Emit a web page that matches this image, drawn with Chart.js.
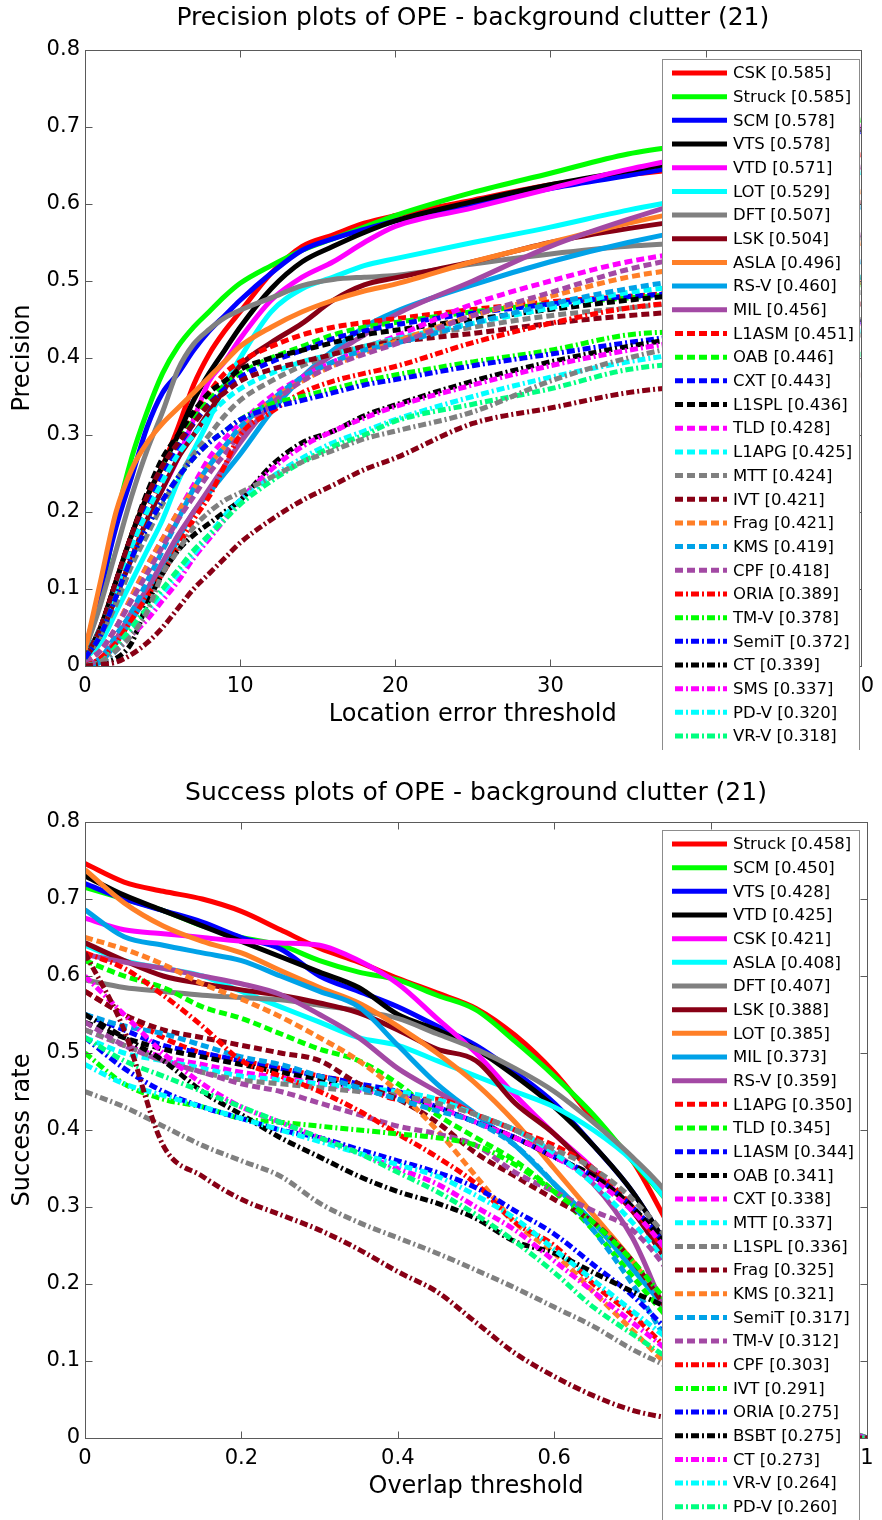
<!DOCTYPE html>
<html>
<head>
<meta charset="utf-8">
<script src="https://cdn.jsdelivr.net/npm/chart.js@4.4.1/dist/chart.umd.min.js"></script>
<style>
    html, body { margin: 0; padding: 0; background: #fff; }
    #wrap { position: relative; width: 882px; height: 1520px; overflow: hidden; }
    canvas { position: absolute; left: 0; }
</style>
</head>
<body>
<div id="wrap">
    <canvas id="prec" width="882" height="750" style="top:0px"></canvas>
    <canvas id="succ" width="882" height="770" style="top:750px"></canvas>
</div>
<script>
// ---- precision plot data (location error threshold, px) ----
var precThresholds = [0, 1, 2, 3, 4, 5, 6, 7, 8, 9, 10, 12, 14, 16, 18, 20, 25, 30, 35, 40, 45, 50];
var precNames = ["CSK", "Struck", "SCM", "VTS", "VTD", "LOT", "DFT", "LSK", "ASLA", "RS-V", "MIL",
    "L1ASM", "OAB", "CXT", "L1SPL", "TLD", "L1APG", "MTT", "IVT", "Frag", "KMS", "CPF",
    "ORIA", "TM-V", "SemiT", "CT", "SMS", "PD-V", "VR-V", "BSBT", "MS-V"];
var precScores = [0.585, 0.585, 0.578, 0.578, 0.571, 0.529, 0.507, 0.504, 0.496, 0.460, 0.456,
    0.451, 0.446, 0.443, 0.436, 0.428, 0.425, 0.424, 0.421, 0.421, 0.419, 0.418,
    0.389, 0.378, 0.372, 0.339, 0.337, 0.320, 0.318, 0.305, 0.270];

var precCSK = [0.01, 0.05, 0.11, 0.17, 0.22, 0.26, 0.31, 0.365, 0.405, 0.435, 0.46, 0.51, 0.545, 0.56, 0.575, 0.585, 0.605, 0.625, 0.638, 0.648, 0.656, 0.664];
var precStruck = [0.02, 0.09, 0.19, 0.27, 0.33, 0.38, 0.415, 0.44, 0.46, 0.48, 0.497, 0.52, 0.54, 0.555, 0.57, 0.585, 0.615, 0.64, 0.665, 0.68, 0.695, 0.709];
var precSCM = [0.02, 0.10, 0.18, 0.245, 0.31, 0.355, 0.38, 0.41, 0.435, 0.455, 0.475, 0.51, 0.54, 0.555, 0.567, 0.578, 0.60, 0.62, 0.637, 0.655, 0.675, 0.694];
var precVTS = [0.01, 0.05, 0.11, 0.17, 0.22, 0.26, 0.30, 0.345, 0.38, 0.41, 0.44, 0.49, 0.525, 0.545, 0.563, 0.578, 0.603, 0.625, 0.643, 0.66, 0.678, 0.697];
var precVTD = [0.01, 0.04, 0.09, 0.14, 0.19, 0.23, 0.27, 0.32, 0.37, 0.395, 0.425, 0.475, 0.505, 0.525, 0.55, 0.571, 0.595, 0.62, 0.645, 0.665, 0.685, 0.701];
var precLOT = [0.01, 0.03, 0.07, 0.11, 0.15, 0.19, 0.24, 0.28, 0.32, 0.365, 0.40, 0.46, 0.49, 0.505, 0.52, 0.529, 0.55, 0.57, 0.592, 0.61, 0.626, 0.641];
var precDFT = [0.02, 0.08, 0.15, 0.22, 0.28, 0.33, 0.385, 0.418, 0.437, 0.452, 0.462, 0.478, 0.494, 0.502, 0.505, 0.507, 0.522, 0.535, 0.545, 0.55, 0.553, 0.556];
var precLSK = [0.01, 0.04, 0.09, 0.14, 0.19, 0.23, 0.27, 0.30, 0.33, 0.36, 0.39, 0.42, 0.445, 0.475, 0.495, 0.504, 0.525, 0.55, 0.568, 0.582, 0.593, 0.602];
var precASLA = [0.02, 0.11, 0.20, 0.255, 0.29, 0.315, 0.335, 0.355, 0.375, 0.395, 0.415, 0.44, 0.46, 0.475, 0.487, 0.496, 0.525, 0.55, 0.575, 0.595, 0.607, 0.616];
var precRSV = [0, 0.005, 0.03, 0.06, 0.09, 0.125, 0.165, 0.20, 0.225, 0.25, 0.275, 0.33, 0.375, 0.41, 0.44, 0.46, 0.495, 0.525, 0.55, 0.57, 0.585, 0.596];
var precMIL = [0, 0.01, 0.035, 0.07, 0.10, 0.135, 0.17, 0.20, 0.23, 0.26, 0.29, 0.34, 0.375, 0.405, 0.43, 0.456, 0.50, 0.545, 0.58, 0.61, 0.632, 0.648];
var precL1ASM = [0.01, 0.04, 0.09, 0.15, 0.20, 0.25, 0.29, 0.325, 0.355, 0.38, 0.395, 0.415, 0.43, 0.44, 0.446, 0.451, 0.463, 0.473, 0.48, 0.487, 0.493, 0.498];
var precOAB = [0.01, 0.05, 0.10, 0.16, 0.21, 0.255, 0.29, 0.32, 0.345, 0.365, 0.38, 0.40, 0.415, 0.43, 0.44, 0.446, 0.46, 0.47, 0.478, 0.485, 0.49, 0.495];
var precCXT = [0.01, 0.05, 0.10, 0.16, 0.21, 0.25, 0.285, 0.315, 0.34, 0.36, 0.375, 0.395, 0.41, 0.425, 0.435, 0.443, 0.458, 0.47, 0.48, 0.485, 0.49, 0.493];
var precL1SPL = [0.01, 0.05, 0.11, 0.17, 0.225, 0.27, 0.30, 0.33, 0.355, 0.37, 0.385, 0.40, 0.41, 0.42, 0.43, 0.436, 0.45, 0.463, 0.475, 0.485, 0.495, 0.505];
var precTLD = [0.005, 0.02, 0.05, 0.09, 0.13, 0.165, 0.20, 0.235, 0.27, 0.295, 0.315, 0.35, 0.375, 0.395, 0.413, 0.428, 0.47, 0.50, 0.525, 0.54, 0.55, 0.56];
var precL1APG = [0.01, 0.05, 0.10, 0.155, 0.20, 0.24, 0.275, 0.30, 0.325, 0.345, 0.36, 0.38, 0.395, 0.405, 0.415, 0.425, 0.445, 0.465, 0.485, 0.495, 0.50, 0.505];
var precMTT = [0.01, 0.04, 0.08, 0.13, 0.17, 0.21, 0.245, 0.275, 0.30, 0.325, 0.345, 0.37, 0.39, 0.405, 0.415, 0.424, 0.44, 0.455, 0.465, 0.475, 0.48, 0.485];
var precIVT = [0.01, 0.05, 0.11, 0.17, 0.22, 0.26, 0.29, 0.315, 0.34, 0.355, 0.37, 0.385, 0.395, 0.405, 0.415, 0.421, 0.432, 0.445, 0.455, 0.462, 0.467, 0.47];
var precFrag = [0.005, 0.02, 0.05, 0.09, 0.13, 0.165, 0.20, 0.23, 0.26, 0.285, 0.305, 0.345, 0.37, 0.39, 0.407, 0.421, 0.455, 0.48, 0.505, 0.52, 0.535, 0.549];
var precKMS = [0, 0.01, 0.04, 0.07, 0.11, 0.15, 0.19, 0.23, 0.26, 0.285, 0.31, 0.345, 0.375, 0.395, 0.41, 0.419, 0.445, 0.47, 0.49, 0.505, 0.515, 0.525];
var precCPF = [0.005, 0.02, 0.05, 0.085, 0.12, 0.155, 0.19, 0.22, 0.25, 0.275, 0.30, 0.34, 0.37, 0.39, 0.405, 0.418, 0.455, 0.485, 0.515, 0.535, 0.548, 0.56];
var precORIA = [0, 0.01, 0.03, 0.06, 0.09, 0.12, 0.155, 0.19, 0.22, 0.26, 0.30, 0.33, 0.355, 0.37, 0.38, 0.389, 0.42, 0.445, 0.465, 0.475, 0.482, 0.488];
var precTMV = [0.01, 0.04, 0.09, 0.14, 0.18, 0.215, 0.245, 0.27, 0.29, 0.305, 0.32, 0.34, 0.35, 0.36, 0.37, 0.378, 0.395, 0.41, 0.43, 0.435, 0.437, 0.438];
var precSemiT = [0.01, 0.04, 0.09, 0.14, 0.18, 0.215, 0.245, 0.27, 0.29, 0.305, 0.32, 0.335, 0.345, 0.355, 0.365, 0.372, 0.39, 0.405, 0.42, 0.432, 0.44, 0.447];
var precCT = [0, 0.005, 0.01, 0.03, 0.08, 0.12, 0.15, 0.17, 0.185, 0.20, 0.215, 0.26, 0.29, 0.305, 0.325, 0.339, 0.37, 0.395, 0.415, 0.43, 0.44, 0.45];
var precSMS = [0, 0.005, 0.02, 0.04, 0.06, 0.085, 0.11, 0.14, 0.165, 0.19, 0.215, 0.255, 0.285, 0.305, 0.322, 0.337, 0.365, 0.39, 0.41, 0.425, 0.435, 0.445];
var precPDV = [0, 0.005, 0.02, 0.045, 0.07, 0.095, 0.12, 0.145, 0.17, 0.195, 0.215, 0.245, 0.27, 0.29, 0.305, 0.32, 0.35, 0.375, 0.395, 0.41, 0.425, 0.435];
var precVRV = [0, 0.005, 0.025, 0.05, 0.075, 0.10, 0.125, 0.15, 0.17, 0.19, 0.21, 0.24, 0.265, 0.285, 0.30, 0.318, 0.34, 0.36, 0.385, 0.395, 0.40, 0.405];
var precBSBT = [0, 0.005, 0.02, 0.04, 0.07, 0.12, 0.15, 0.18, 0.20, 0.215, 0.225, 0.245, 0.265, 0.28, 0.295, 0.305, 0.33, 0.37, 0.40, 0.42, 0.425, 0.43];
var precMSV = [0, 0.002, 0.005, 0.015, 0.03, 0.05, 0.075, 0.10, 0.12, 0.14, 0.16, 0.19, 0.215, 0.235, 0.255, 0.27, 0.315, 0.335, 0.355, 0.365, 0.372, 0.378];

var precSeries = [precCSK, precStruck, precSCM, precVTS, precVTD, precLOT, precDFT, precLSK, precASLA, precRSV, precMIL,
    precL1ASM, precOAB, precCXT, precL1SPL, precTLD, precL1APG, precMTT, precIVT, precFrag, precKMS, precCPF,
    precORIA, precTMV, precSemiT, precCT, precSMS, precPDV, precVRV, precBSBT, precMSV];

// ---- success plot data (overlap threshold) ----
var succThresholds = [0, 0.05, 0.1, 0.15, 0.2, 0.25, 0.3, 0.35, 0.4, 0.45, 0.5, 0.55, 0.6, 0.65, 0.7, 0.75, 0.8, 0.85, 0.9, 0.95, 1];
var succNames = ["Struck", "SCM", "VTS", "VTD", "CSK", "ASLA", "DFT", "LSK", "LOT", "MIL", "RS-V",
    "L1APG", "TLD", "L1ASM", "OAB", "CXT", "MTT", "L1SPL", "Frag", "KMS", "SemiT", "TM-V",
    "CPF", "IVT", "ORIA", "BSBT", "CT", "VR-V", "PD-V", "SMS", "MS-V"];
var succScores = [0.458, 0.450, 0.428, 0.425, 0.421, 0.408, 0.407, 0.388, 0.385, 0.373, 0.359,
    0.350, 0.345, 0.344, 0.341, 0.338, 0.337, 0.336, 0.325, 0.321, 0.317, 0.312,
    0.303, 0.291, 0.275, 0.275, 0.273, 0.264, 0.260, 0.213, 0.183];

var succStruck = [0.746, 0.722, 0.71, 0.70, 0.684, 0.66, 0.636, 0.618, 0.597, 0.578, 0.558, 0.523, 0.475, 0.414, 0.36, 0.27, 0.19, 0.11, 0.05, 0.015, 0];
var succSCM = [0.715, 0.70, 0.685, 0.665, 0.65, 0.64, 0.62, 0.605, 0.595, 0.575, 0.556, 0.515, 0.47, 0.42, 0.36, 0.30, 0.22, 0.14, 0.07, 0.02, 0];
var succVTS = [0.72, 0.70, 0.685, 0.67, 0.65, 0.635, 0.60, 0.58, 0.56, 0.535, 0.51, 0.475, 0.435, 0.38, 0.32, 0.24, 0.15, 0.09, 0.04, 0.01, 0];
var succVTD = [0.73, 0.705, 0.685, 0.665, 0.645, 0.625, 0.605, 0.585, 0.55, 0.53, 0.505, 0.47, 0.43, 0.38, 0.32, 0.24, 0.15, 0.065, 0.035, 0.01, 0];
var succCSK = [0.675, 0.66, 0.655, 0.65, 0.645, 0.643, 0.64, 0.62, 0.59, 0.545, 0.50, 0.445, 0.395, 0.35, 0.295, 0.23, 0.16, 0.09, 0.04, 0.01, 0];
var succASLA = [0.64, 0.62, 0.61, 0.60, 0.58, 0.56, 0.54, 0.52, 0.51, 0.49, 0.47, 0.45, 0.43, 0.40, 0.36, 0.30, 0.22, 0.14, 0.07, 0.02, 0];
var succDFT = [0.595, 0.585, 0.58, 0.575, 0.572, 0.569, 0.562, 0.555, 0.545, 0.525, 0.505, 0.48, 0.45, 0.41, 0.365, 0.31, 0.22, 0.13, 0.06, 0.02, 0];
var succLSK = [0.643, 0.62, 0.60, 0.59, 0.582, 0.575, 0.565, 0.552, 0.53, 0.505, 0.49, 0.435, 0.395, 0.345, 0.295, 0.22, 0.14, 0.07, 0.02, 0.01, 0];
var succLOT = [0.738, 0.695, 0.665, 0.645, 0.63, 0.607, 0.585, 0.565, 0.535, 0.50, 0.46, 0.41, 0.35, 0.29, 0.23, 0.16, 0.09, 0.04, 0.01, 0, 0];
var succMIL = [0.686, 0.651, 0.64, 0.63, 0.62, 0.60, 0.58, 0.56, 0.51, 0.46, 0.42, 0.38, 0.33, 0.28, 0.22, 0.16, 0.11, 0.06, 0.04, 0.01, 0];
var succRSV = [0.628, 0.618, 0.61, 0.60, 0.59, 0.576, 0.55, 0.52, 0.48, 0.45, 0.42, 0.40, 0.37, 0.33, 0.26, 0.15, 0.08, 0.04, 0.02, 0.01, 0];
var succL1APG = [0.58, 0.55, 0.52, 0.50, 0.49, 0.48, 0.47, 0.46, 0.44, 0.44, 0.42, 0.40, 0.38, 0.35, 0.30, 0.23, 0.15, 0.09, 0.03, 0.01, 0];
var succTLD = [0.62, 0.60, 0.585, 0.56, 0.545, 0.525, 0.505, 0.49, 0.46, 0.42, 0.39, 0.36, 0.32, 0.27, 0.21, 0.15, 0.09, 0.05, 0.02, 0.01, 0];
var succL1ASM = [0.55, 0.53, 0.51, 0.50, 0.49, 0.48, 0.47, 0.46, 0.45, 0.43, 0.41, 0.39, 0.365, 0.34, 0.30, 0.24, 0.16, 0.09, 0.04, 0.01, 0];
var succOAB = [0.54, 0.52, 0.505, 0.495, 0.485, 0.475, 0.465, 0.455, 0.445, 0.43, 0.41, 0.39, 0.365, 0.34, 0.30, 0.24, 0.16, 0.09, 0.04, 0.01, 0];
var succCXT = [0.53, 0.51, 0.495, 0.485, 0.475, 0.468, 0.46, 0.452, 0.445, 0.43, 0.41, 0.39, 0.365, 0.335, 0.295, 0.235, 0.155, 0.085, 0.035, 0.01, 0];
var succMTT = [0.52, 0.50, 0.49, 0.48, 0.47, 0.465, 0.46, 0.455, 0.45, 0.44, 0.42, 0.40, 0.37, 0.33, 0.28, 0.22, 0.15, 0.08, 0.03, 0.01, 0];
var succL1SPL = [0.53, 0.51, 0.49, 0.475, 0.465, 0.46, 0.455, 0.45, 0.445, 0.435, 0.42, 0.40, 0.375, 0.35, 0.31, 0.25, 0.15, 0.06, 0.02, 0, 0];
var succFrag = [0.58, 0.55, 0.53, 0.52, 0.51, 0.50, 0.49, 0.46, 0.44, 0.41, 0.37, 0.34, 0.31, 0.28, 0.23, 0.16, 0.10, 0.04, 0.01, 0, 0];
var succKMS = [0.65, 0.635, 0.615, 0.59, 0.57, 0.547, 0.52, 0.49, 0.45, 0.40, 0.34, 0.28, 0.24, 0.19, 0.14, 0.09, 0.05, 0.02, 0.01, 0, 0];
var succSemiT = [0.55, 0.535, 0.525, 0.51, 0.495, 0.485, 0.47, 0.455, 0.44, 0.425, 0.41, 0.38, 0.33, 0.27, 0.20, 0.12, 0.07, 0.03, 0.01, 0, 0];
var succTMV = [0.54, 0.51, 0.49, 0.475, 0.46, 0.45, 0.435, 0.42, 0.405, 0.395, 0.38, 0.345, 0.32, 0.295, 0.27, 0.21, 0.12, 0.05, 0.02, 0, 0];
var succCPF = [0.63, 0.61, 0.575, 0.535, 0.49, 0.47, 0.45, 0.425, 0.395, 0.365, 0.33, 0.28, 0.25, 0.20, 0.16, 0.11, 0.06, 0.03, 0.01, 0, 0];
var succIVT = [0.50, 0.46, 0.44, 0.43, 0.415, 0.41, 0.405, 0.40, 0.395, 0.39, 0.38, 0.355, 0.32, 0.28, 0.23, 0.17, 0.11, 0.06, 0.02, 0, 0];
var succORIA = [0.52, 0.48, 0.45, 0.43, 0.415, 0.40, 0.39, 0.375, 0.36, 0.345, 0.325, 0.295, 0.265, 0.225, 0.185, 0.135, 0.09, 0.05, 0.015, 0, 0];
var succBSBT = [0.55, 0.52, 0.49, 0.45, 0.42, 0.39, 0.365, 0.34, 0.32, 0.305, 0.285, 0.255, 0.24, 0.215, 0.19, 0.165, 0.12, 0.07, 0.03, 0.01, 0];
var succCT = [0.60, 0.55, 0.50, 0.46, 0.43, 0.41, 0.39, 0.37, 0.35, 0.33, 0.30, 0.27, 0.23, 0.19, 0.15, 0.11, 0.07, 0.04, 0.02, 0.01, 0];
var succVRV = [0.485, 0.46, 0.445, 0.43, 0.415, 0.40, 0.385, 0.37, 0.355, 0.34, 0.315, 0.285, 0.245, 0.205, 0.165, 0.125, 0.085, 0.04, 0.01, 0, 0];
var succPDV = [0.52, 0.49, 0.47, 0.45, 0.43, 0.41, 0.39, 0.37, 0.345, 0.32, 0.29, 0.255, 0.215, 0.17, 0.135, 0.10, 0.06, 0.03, 0.01, 0, 0];
var succSMS = [0.45, 0.43, 0.405, 0.38, 0.36, 0.34, 0.305, 0.28, 0.26, 0.24, 0.218, 0.195, 0.17, 0.145, 0.115, 0.09, 0.06, 0.03, 0.01, 0, 0];
var succMSV = [0.63, 0.53, 0.38, 0.34, 0.31, 0.29, 0.27, 0.245, 0.216, 0.19, 0.15, 0.11, 0.08, 0.055, 0.036, 0.025, 0.015, 0.008, 0.003, 0, 0];

var succSeries = [succStruck, succSCM, succVTS, succVTD, succCSK, succASLA, succDFT, succLSK, succLOT, succMIL, succRSV,
    succL1APG, succTLD, succL1ASM, succOAB, succCXT, succMTT, succL1SPL, succFrag, succKMS, succSemiT, succTMV,
    succCPF, succIVT, succORIA, succBSBT, succCT, succVRV, succPDV, succSMS, succMSV];

var yTicks = [0, 0.1, 0.2, 0.3, 0.4, 0.5, 0.6, 0.7, 0.8];

// ---- line styles, assigned by rank like the benchmark toolkit ----
var solidColors = ["#ff0000", "#00ff00", "#0000ff", "#000000", "#ff00ff", "#00ffff", "#808080", "#880015", "#ff7f27", "#00a2e8", "#a349a4"];
var dashDotColors = ["#ff0000", "#00ff00", "#0000ff", "#000000", "#ff00ff", "#00ffff", "#00ff80", "#808080", "#880015"];

function styleForRank(i) {
    if (i < 11) return {color: solidColors[i], dash: []};
    if (i < 22) return {color: solidColors[i - 11], dash: [8, 4]};
    return {color: dashDotColors[i - 22], dash: [8, 3, 2, 3]};
}

Chart.defaults.font.family = "'DejaVu Sans', sans-serif";
Chart.defaults.color = "#000";

// box with inward ticks, drawn over the curves
var framePlugin = {
    id: "frame",
    afterDatasetsDraw: function (chart) {
        var ctx = chart.ctx, a = chart.chartArea;
        var xs = chart.scales.x, ys = chart.scales.y;
        var L = Math.round(a.left) + 0.5, R = Math.round(a.right) + 0.5;
        var T = Math.round(a.top) + 0.5, B = Math.round(a.bottom) + 0.5;
        ctx.save();
        ctx.strokeStyle = "#5a5a5a";
        ctx.lineWidth = 1;
        ctx.strokeRect(L, T, R - L, B - T);
        ctx.beginPath();
        xs.ticks.forEach(function (t) {
            var px = Math.round(xs.getPixelForValue(t.value)) + 0.5;
            ctx.moveTo(px, B); ctx.lineTo(px, B - 7);
            ctx.moveTo(px, T); ctx.lineTo(px, T + 7);
        });
        ys.ticks.forEach(function (t) {
            var py = Math.round(ys.getPixelForValue(t.value)) + 0.5;
            ctx.moveTo(L, py); ctx.lineTo(L + 7, py);
            ctx.moveTo(R, py); ctx.lineTo(R - 7, py);
        });
        ctx.stroke();
        ctx.restore();
    }
};

// title + legend box that sits over the plot and runs off the figure
var legendPlugin = {
    id: "boxLegend",
    afterDraw: function (chart, args, opts) {
        var ctx = chart.ctx, a = chart.chartArea;
        ctx.save();
        ctx.fillStyle = "#000";
        ctx.font = "25px 'DejaVu Sans'";
        ctx.textAlign = "center";
        ctx.textBaseline = "middle";
        ctx.fillText(opts.title, (a.left + a.right) / 2, opts.titleY);

        ctx.fillStyle = "#fff";
        ctx.fillRect(opts.x, opts.y, opts.w, 2000);
        ctx.strokeStyle = "#8c8c8c";
        ctx.lineWidth = 1;
        ctx.strokeRect(opts.x + 0.5, opts.y + 0.5, opts.w, 2000);

        ctx.font = "16.5px 'DejaVu Sans'";
        ctx.textAlign = "left";
        chart.data.datasets.forEach(function (ds, i) {
            var cy = opts.firstRow + i * opts.rowStep;
            ctx.beginPath();
            ctx.setLineDash(ds.borderDash);
            ctx.lineDashOffset = ds.borderDash.length ? -3 : 0;
            ctx.strokeStyle = ds.borderColor;
            ctx.lineWidth = 5;
            ctx.lineCap = "butt";
            ctx.moveTo(opts.x + 10, cy);
            ctx.lineTo(opts.x + 65, cy);
            ctx.stroke();
            ctx.setLineDash([]);
            ctx.fillStyle = "#000";
            ctx.fillText(ds.label, opts.x + 71, cy + 1);
        });
        ctx.restore();
    }
};

function tickText(v) {
    return String(Number(v.toFixed(2)));
}

function makeChart(canvasId, cfg) {
    var datasets = cfg.series.map(function (values, i) {
        var st = styleForRank(i);
        return {
            label: cfg.names[i] + " [" + cfg.scores[i].toFixed(3) + "]",
            data: values.map(function (v, k) { return {x: cfg.thresholds[k], y: v}; }),
            borderColor: st.color,
            borderDash: st.dash,
            borderWidth: 5,
            borderCapStyle: "butt",
            pointRadius: 0,
            fill: false,
            cubicInterpolationMode: "monotone",
            order: cfg.series.length - i
        };
    });
    return new Chart(document.getElementById(canvasId), {
        type: "line",
        data: {datasets: datasets},
        plugins: [framePlugin, legendPlugin],
        options: {
            responsive: false,
            animation: false,
            events: [],
            layout: {padding: {top: cfg.top, right: 15, left: 0, bottom: 0}},
            plugins: {
                legend: {display: false},
                tooltip: {enabled: false},
                boxLegend: cfg.legend
            },
            scales: {
                x: {
                    type: "linear",
                    min: cfg.xMin, max: cfg.xMax,
                    afterFit: function (scale) { scale.height = cfg.xHeight; },
                    afterBuildTicks: function (scale) {
                        scale.ticks = cfg.xTicks.map(function (v) { return {value: v}; });
                    },
                    ticks: {font: {size: 21}, padding: 8, maxRotation: 0, autoSkip: false, callback: tickText},
                    grid: {display: false, drawTicks: false},
                    border: {display: false},
                    title: {display: true, text: cfg.xTitle, font: {size: 24}, padding: {top: 0, bottom: cfg.xTitlePad}}
                },
                y: {
                    min: 0, max: 0.8,
                    afterFit: function (scale) { scale.width = 85; },
                    afterBuildTicks: function (scale) {
                        scale.ticks = yTicks.map(function (v) { return {value: v}; });
                    },
                    ticks: {font: {size: 21}, padding: 5, autoSkip: false, callback: tickText},
                    grid: {display: false, drawTicks: false},
                    border: {display: false},
                    title: {display: true, text: cfg.yTitle, font: {size: 24}, padding: {top: 8, bottom: 0}}
                }
            }
        }
    });
}

makeChart("prec", {
    series: precSeries, names: precNames, scores: precScores, thresholds: precThresholds,
    xMin: 0, xMax: 50, xTicks: [0, 10, 20, 30, 40, 50],
    top: 50, xHeight: 84, xTitlePad: 21,
    xTitle: "Location error threshold", yTitle: "Precision",
    legend: {title: "Precision plots of OPE - background clutter (21)", titleY: 18,
        x: 662, y: 59, w: 197, firstRow: 73, rowStep: 23.68}
});

makeChart("succ", {
    series: succSeries, names: succNames, scores: succScores, thresholds: succThresholds,
    xMin: 0, xMax: 1, xTicks: [0, 0.2, 0.4, 0.6, 0.8, 1],
    top: 72, xHeight: 82, xTitlePad: 19,
    xTitle: "Overlap threshold", yTitle: "Success rate",
    legend: {title: "Success plots of OPE - background clutter (21)", titleY: 43,
        x: 662, y: 80, w: 197, firstRow: 94, rowStep: 23.67}
});
</script>
</body>
</html>
